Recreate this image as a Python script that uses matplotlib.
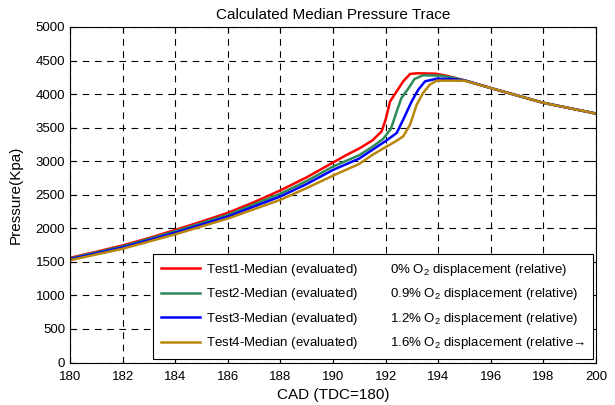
import numpy as np
import matplotlib.pyplot as plt

plt.rcParams['font.family'] = ['Liberation Sans', 'DejaVu Sans']
plt.rcParams['mathtext.fontset'] = 'custom'
plt.rcParams['mathtext.rm'] = 'Liberation Sans'

# Crank angle / pressure points
tail_cad = [196, 197, 198, 199, 200]
tail_p = [4090, 3980, 3870, 3790, 3710]

cad1 = [180, 181, 182, 183, 184, 185, 186, 187, 188, 189, 190, 190.5, 191, 191.5, 191.85,
        192.0, 192.17, 192.42, 192.67, 192.93, 193.2, 193.9, 194.3, 194.95] + tail_cad
p1 = [1560, 1650, 1745, 1855, 1975, 2100, 2230, 2390, 2565, 2760, 2980, 3090, 3190, 3310, 3445,
      3620, 3890, 4040, 4190, 4300, 4310, 4305, 4275, 4210] + tail_p

cad2 = [180, 182, 184, 186, 188, 189, 190, 191, 191.5, 191.9, 192.2, 192.42, 192.6, 192.85,
        193.1, 193.42, 194.1, 194.5, 195] + tail_cad
p2 = [1550, 1730, 1955, 2200, 2515, 2705, 2920, 3090, 3215, 3330, 3480, 3740, 3940, 4075,
      4225, 4280, 4275, 4250, 4205] + tail_p

cad3 = [180, 182, 184, 186, 188, 189, 190, 191, 191.5, 192, 192.42, 192.67, 192.99, 193.24,
        193.5, 193.94, 194.45, 195] + tail_cad
p3 = [1540, 1715, 1935, 2175, 2475, 2660, 2870, 3040, 3170, 3300, 3420, 3620, 3890, 4065,
      4190, 4230, 4227, 4205] + tail_p

cad4 = [180, 182, 184, 186, 188, 189, 190, 191, 191.5, 192, 192.4, 192.67, 192.93, 193.18,
        193.42, 193.68, 193.94, 194.8, 195] + tail_cad
p4 = [1525, 1695, 1910, 2145, 2425, 2600, 2785, 2960, 3095, 3210, 3300, 3370, 3545, 3840,
      4015, 4140, 4200, 4200, 4200] + tail_p

names = ['Test1-Median (evaluated)', 'Test2-Median (evaluated)',
         'Test3-Median (evaluated)', 'Test4-Median (evaluated)']
notes = ['0% O$_2$ displacement (relative)', '0.9% O$_2$ displacement (relative)',
         '1.2% O$_2$ displacement (relative)', '1.6% O$_2$ displacement (relative\u2192']
colors = ['#ff0000', '#2e8b57', '#0000ff', '#b8860b']

fig = plt.figure(figsize=(6.15, 4.05), dpi=100)
ax = fig.add_axes([70 / 615, (405 - 362.5) / 405, 526 / 615, 335.5 / 405])

series = [(cad1, p1), (cad2, p2), (cad3, p3), (cad4, p4)]
gap = ' ' * 9
for (x, y), c, n, t in zip(series, colors, names, notes):
    ax.plot(x, y, color=c, linewidth=1.8, label=n + gap + t)

ax.set_xlim(180, 200)
ax.set_ylim(0, 5000)
ax.set_xticks(np.arange(180, 201, 2))
ax.set_yticks(np.arange(0, 5001, 500))
ax.tick_params(direction='in', top=True, right=True, labelsize=9.5, length=4)
ax.tick_params(axis='x', pad=6)
ax.grid(True, color='black', linestyle=(0, (6, 5)), linewidth=0.8)

ax.set_xlabel('CAD (TDC=180)', fontsize=11, labelpad=4)
ax.set_ylabel('Pressure(Kpa)', fontsize=11, labelpad=9)
ax.set_title('Calculated Median Pressure Trace', fontsize=11, pad=6)

leg = ax.legend(loc='lower right', bbox_to_anchor=(1.0, 0.0), fontsize=9.5,
                handlelength=3.0, handletextpad=0.4, labelspacing=0.65,
                borderaxespad=0.25, frameon=True, fancybox=False,
                edgecolor='black', framealpha=1, borderpad=0.6)
leg.get_frame().set_linewidth(0.8)

plt.savefig('out.png', dpi=100)
